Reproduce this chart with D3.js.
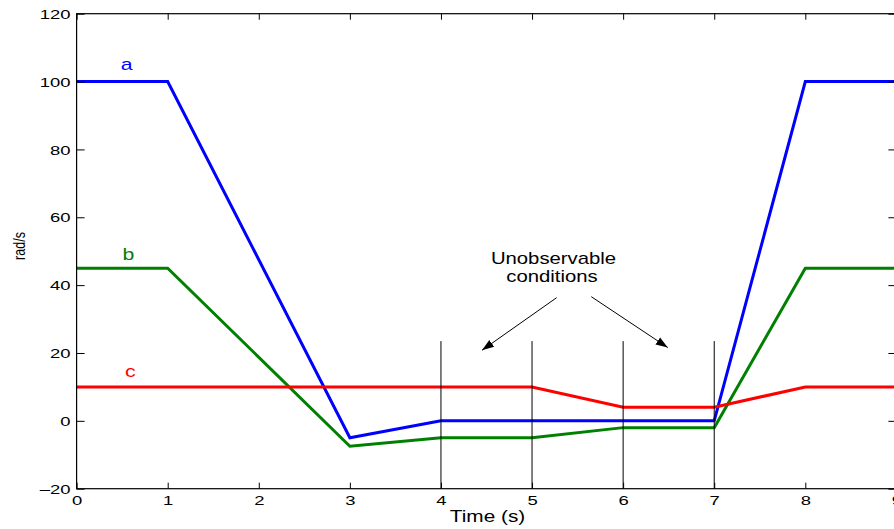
<!DOCTYPE html>
<html><head><meta charset="utf-8">
<script src="https://cdn.jsdelivr.net/npm/d3@7"></script>
<style>body{margin:0;background:#fff}svg{display:block}text{font-family:"Liberation Sans",Arial,Helvetica,sans-serif}</style>
</head><body><svg id="c" width="894" height="529"></svg>
<script>
const times = [0,1,3,4,5,6,7,8,9];
const seriesA = [100,100,-5,0,0,0,0,100,100];
const seriesB = [45,45,-7.5,-5,-5,-2,-2,45,45];
const seriesC = [10,10,10,10,10,4,4,10,10];
const seriesNames = ["a","b","c"];
const seriesColors = ["#0000ff","#008000","#ff0000"];
const xTicks = [0,1,2,3,4,5,6,7,8,9];
const yTicks = [-20,0,20,40,60,80,100,120];
const markerTimes = [4,5,6,7];
const markerTop = 23.5;
const noteLines = ["Unobservable","conditions"];

const SX = 1.42; // horizontal stretch of the original figure's text
const svg = d3.select("#c");
const x = d3.scaleLinear().domain([0,9]).range([76.6,896.4]);
const y = d3.scaleLinear().domain([-20,120]).range([488.7,13.7]);
const X0 = x(0), X1 = x(9), Y0 = y(-20), Y1 = y(120);

function stxt(px, py, str, size, sx, anchor, color){
  return svg.append("text").attr("transform",`translate(${px},${py}) scale(${sx},1)`)
    .attr("text-anchor",anchor).attr("fill",color||"#000").style("font-size",size+"px").text(str);
}

// series
const all = [seriesA, seriesB, seriesC];
const line = d3.line().x((d,i)=>x(times[i])).y(d=>y(d));
all.forEach((s,k)=>{
  svg.append("path").datum(s).attr("d",line).attr("fill","none")
    .attr("stroke",seriesColors[k]).attr("stroke-width",3).attr("stroke-linejoin","miter");
});

// marker vertical lines
markerTimes.forEach(t=>{
  svg.append("line").attr("x1",x(t)).attr("x2",x(t)).attr("y1",y(markerTop)).attr("y2",Y0)
    .attr("stroke","#000").attr("stroke-width",1);
});

// axes box
svg.append("rect").attr("x",X0).attr("y",Y1).attr("width",X1-X0).attr("height",Y0-Y1)
  .attr("fill","none").attr("stroke","#000").attr("stroke-width",1.2);

// axes
const xa = svg.append("g").attr("transform",`translate(0,${Y0})`)
  .call(d3.axisBottom(x).tickValues(xTicks).tickFormat(d3.format("d")).tickSizeInner(-6).tickSizeOuter(0));
const xt = svg.append("g").attr("transform",`translate(0,${Y1})`)
  .call(d3.axisTop(x).tickValues(xTicks).tickFormat("").tickSizeInner(-6).tickSizeOuter(0));
const ya = svg.append("g").attr("transform",`translate(${X0},0)`)
  .call(d3.axisLeft(y).tickValues(yTicks).tickFormat(d=>d<0?"\u2013"+Math.abs(d):d).tickSizeInner(-8).tickSizeOuter(0));
const yr = svg.append("g").attr("transform",`translate(${X1},0)`)
  .call(d3.axisRight(y).tickValues(yTicks).tickFormat("").tickSizeInner(-8).tickSizeOuter(0));
[xa,xt,ya,yr].forEach(g=>{
  g.select(".domain").remove();
  g.selectAll(".tick line").attr("stroke","#000").attr("stroke-width",1);
  g.selectAll(".tick text").attr("fill","#000").style("font-size","13px")
    .style("font-family","'Liberation Sans',Arial,sans-serif").attr("x",null).attr("y",null).attr("dy",null);
});
xa.selectAll(".tick text").attr("text-anchor","middle").attr("transform",`translate(0,${505-Y0}) scale(${SX},1)`);
ya.selectAll(".tick text").attr("text-anchor","end").attr("dy","0.36em").attr("transform",`translate(${70.5-X0},0) scale(${SX},1)`);

// series labels
const labelPos = [[0.55,103.5],[0.57,47.5],[0.59,13]];
seriesNames.forEach((n,k)=>{
  stxt(x(labelPos[k][0]), y(labelPos[k][1]), n, 17, 1.25, "middle", seriesColors[k]);
});

// axis titles
stxt(487.5, 521.5, "Time (s)", 16, 1.3, "middle");
svg.append("text").attr("transform",`translate(25,246) scale(1.35,1) rotate(-90)`)
  .attr("text-anchor","middle").style("font-size","12.5px").text("rad/s");

// annotation
svg.append("defs").append("marker").attr("id","ah").attr("viewBox","0 0 10 10").attr("refX",10).attr("refY",5)
  .attr("markerWidth",12).attr("markerHeight",12).attr("markerUnits","userSpaceOnUse").attr("orient","auto")
  .append("path").attr("d","M0,1.5 L10,5 L0,8.5 Z").attr("fill","#000");
const notePos = [[553.5,264],[552,282]];
noteLines.forEach((t,i)=>{ stxt(notePos[i][0], notePos[i][1], t, 16, 1.27, "middle"); });
svg.append("line").attr("x1",x(5.27)).attr("y1",y(36.3)).attr("x2",x(4.45)).attr("y2",y(20.8))
  .attr("stroke","#000").attr("stroke-width",1).attr("marker-end","url(#ah)");
svg.append("line").attr("x1",x(5.65)).attr("y1",y(36.6)).attr("x2",x(6.49)).attr("y2",y(21.6))
  .attr("stroke","#000").attr("stroke-width",1).attr("marker-end","url(#ah)");
</script></body></html>
